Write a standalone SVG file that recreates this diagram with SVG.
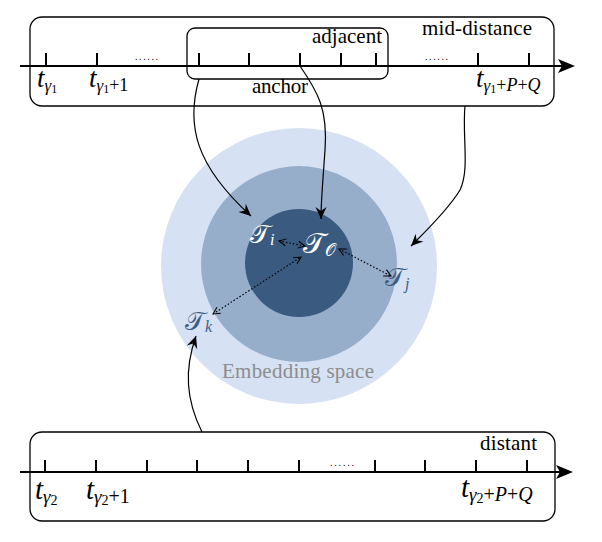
<svg xmlns="http://www.w3.org/2000/svg" width="602" height="542" viewBox="0 0 602 542">
<style>
.box{fill:none;stroke:#000;stroke-width:1.3}
.axis{stroke:#000;stroke-width:2.2;fill:none}
.tick{stroke:#000;stroke-width:2}
.lbl{font-family:"Liberation Serif","Times New Roman",serif;font-size:21px;fill:#000}
.dots{font-family:"Liberation Serif",serif;font-size:10px;fill:#000}
.t{font-family:"Liberation Serif","Times New Roman",serif;font-style:italic;fill:#000}
.conn{fill:none;stroke:#000;stroke-width:1.2}
.dot{fill:none;stroke:#000;stroke-width:1.2;stroke-dasharray:1.5 2}
.cal{font-family:"DejaVu Serif","Noto Sans",serif}
</style>
<defs>
<marker id="stealth" viewBox="-13 -7 14 14" refX="0" refY="0" markerWidth="14" markerHeight="14" markerUnits="userSpaceOnUse" orient="auto">
<path d="M0,0 L-12,-5.5 L-8,0 L-12,5.5 Z" fill="#000"/>
</marker>
<marker id="open" viewBox="-9 -5 10 10" refX="0" refY="0" markerWidth="10" markerHeight="10" markerUnits="userSpaceOnUse" orient="auto-start-reverse">
<path d="M-7,-3.5 L0,0 L-7,3.5" fill="none" stroke="#000" stroke-width="1"/>
</marker>
</defs>
<rect width="602" height="542" fill="#fff"/>

<g id="embedding-space">
<circle cx="299" cy="266" r="138" fill="#d6e2f4"/>
<circle cx="299" cy="264" r="98" fill="#97aecb"/>
<circle cx="299" cy="263" r="54" fill="#3a5a80"/>
<text x="222" y="378" font-family="Liberation Serif,serif" font-size="21" fill="#8c8c8c" textLength="152">Embedding space</text>
</g>

<g id="top-timeline">
<rect class="box" x="30" y="17" width="524" height="89" rx="12"/>
<line class="axis" x1="20" y1="66" x2="562" y2="66"/>
<path d="M575,66 L558,59 L562,66 L558,73 Z" fill="#000"/>
<g class="tick">
<line x1="46" y1="53" x2="46" y2="66"/><line x1="97" y1="53" x2="97" y2="66"/>
<line x1="199" y1="53" x2="199" y2="66"/><line x1="249" y1="53" x2="249" y2="66"/>
<line x1="300" y1="53" x2="300" y2="66"/><line x1="341" y1="53" x2="341" y2="66"/>
<line x1="376" y1="53" x2="376" y2="66"/><line x1="478" y1="53" x2="478" y2="66"/>
<line x1="529" y1="53" x2="529" y2="66"/>
</g>
<text class="dots" x="135" y="60" textLength="23">......</text>
<text class="dots" x="425" y="60" textLength="23">......</text>
<text class="lbl" x="422" y="35" textLength="110">mid-distance</text>
<text class="t" x="37" y="87" font-size="27">t<tspan font-size="17" dy="4">γ</tspan><tspan font-size="12" font-style="normal" dy="2">1</tspan></text>
<text class="t" x="89" y="87" font-size="27">t<tspan font-size="17" dy="4">γ</tspan><tspan font-size="12" font-style="normal" dy="2">1</tspan><tspan font-size="18" font-style="normal" dy="-2">+1</tspan></text>
<text class="t" x="476" y="87" font-size="27">t<tspan font-size="17" dy="4">γ</tspan><tspan font-size="12" font-style="normal" dy="2">1</tspan><tspan font-size="18" font-style="normal" dy="-2">+</tspan><tspan font-size="18">P</tspan><tspan font-size="18" font-style="normal">+</tspan><tspan font-size="18">Q</tspan></text>
</g>

<g id="anchor-adjacent">
<rect class="box" x="187" y="28" width="201" height="51" rx="8"/>
<text class="lbl" x="312" y="43" textLength="70">adjacent</text>
<text class="lbl" x="252" y="93" textLength="56">anchor</text>
</g>

<g id="bottom-timeline">
<rect class="box" x="30" y="432" width="525" height="89" rx="12"/>
<line class="axis" x1="20" y1="472" x2="560" y2="472"/>
<path d="M573,472 L556,465 L560,472 L556,479 Z" fill="#000"/>
<g class="tick">
<line x1="45" y1="460" x2="45" y2="472"/><line x1="96" y1="460" x2="96" y2="472"/>
<line x1="147" y1="460" x2="147" y2="472"/><line x1="197" y1="460" x2="197" y2="472"/>
<line x1="248" y1="460" x2="248" y2="472"/><line x1="299" y1="460" x2="299" y2="472"/>
<line x1="375" y1="460" x2="375" y2="472"/><line x1="425" y1="460" x2="425" y2="472"/>
<line x1="476" y1="460" x2="476" y2="472"/><line x1="527" y1="460" x2="527" y2="472"/>
</g>
<text class="dots" x="330" y="466" textLength="24">......</text>
<text class="lbl" x="480" y="450" textLength="57">distant</text>
<text class="t" x="35" y="499" font-size="29">t<tspan font-size="19" dy="4">γ</tspan><tspan font-size="14" font-style="normal" dy="2">2</tspan></text>
<text class="t" x="86" y="499" font-size="29">t<tspan font-size="19" dy="4">γ</tspan><tspan font-size="14" font-style="normal" dy="2">2</tspan><tspan font-size="20" font-style="normal" dy="-2">+1</tspan></text>
<text class="t" x="461" y="497" font-size="29">t<tspan font-size="19" dy="4">γ</tspan><tspan font-size="14" font-style="normal" dy="2">2</tspan><tspan font-size="20" font-style="normal" dy="-2">+</tspan><tspan font-size="20">P</tspan><tspan font-size="20" font-style="normal">+</tspan><tspan font-size="20">Q</tspan></text>
</g>

<g id="T-i"><text class="cal" x="250" y="243" font-size="26" fill="#fff">𝒯<tspan font-family="Liberation Serif,serif" font-style="italic" font-size="16" dy="2">i</tspan></text></g>
<g id="T-O"><text class="cal" x="303" y="253" font-size="29" fill="#fff">𝒯<tspan font-size="17" dy="3">𝒪</tspan></text></g>
<g id="T-j"><text class="cal" x="385" y="286" font-size="26" fill="#3d5d86">𝒯<tspan font-family="Liberation Serif,serif" font-style="italic" font-size="16" dy="3">j</tspan></text></g>
<g id="T-k"><text class="cal" x="185" y="330" font-size="26" fill="#3d5d86">𝒯<tspan font-family="Liberation Serif,serif" font-style="italic" font-size="16" dy="2">k</tspan></text></g>

<g id="connectors">
<path class="conn" d="M199,79 C186,125 195,165 251,216" marker-end="url(#stealth)"/>
<path class="conn" d="M300,66 C318,92 328,110 325,150 C323,180 321,200 321,219" marker-end="url(#stealth)"/>
<path class="conn" d="M465,106 C462,135 470,170 460,190 C448,210 425,232 411,246" marker-end="url(#stealth)"/>
<path class="conn" d="M202,432 C186,400 184,370 196,336" marker-end="url(#stealth)"/>
<path class="dot" d="M279,241 L305,246" marker-start="url(#open)" marker-end="url(#open)"/>
<path class="dot" d="M339,249 L391,276" marker-start="url(#open)" marker-end="url(#open)"/>
<path class="dot" d="M213,314 L301,257" marker-start="url(#open)" marker-end="url(#open)"/>
</g>
</svg>
